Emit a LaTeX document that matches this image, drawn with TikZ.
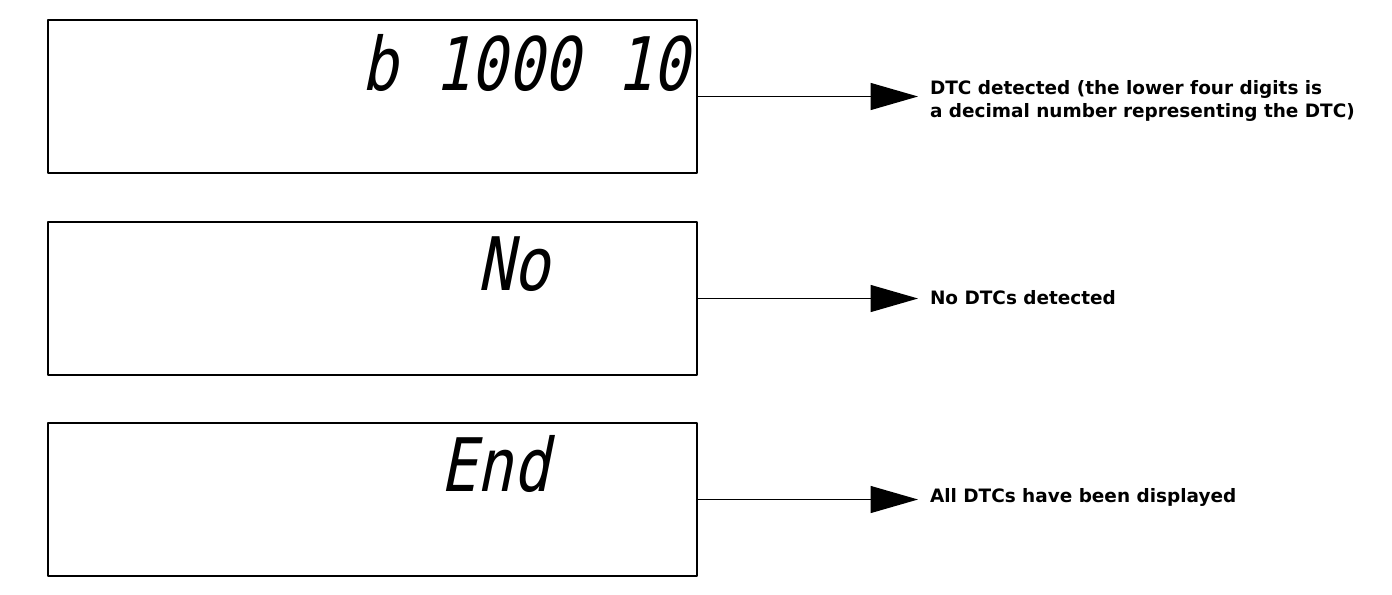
\documentclass[tikz,border=0pt]{standalone}
\usepackage{fontspec}
\usepackage{tikz}
\usetikzlibrary{arrows.meta}
\newfontfamily\lcdfont[FakeSlant=0.2,FakeStretch=0.82]{DejaVu Sans Mono}
\newfontfamily\msgfont{DejaVu Sans Bold}

\begin{document}
\begin{tikzpicture}[line cap=round,line join=round,>={Triangle[length=0.95cm,width=0.54cm]},x=1cm,y=1cm,
  display/.style={draw,line width=1.2pt,minimum width=12.98cm,minimum height=3.06cm},
  readout/.style={anchor=base west,inner sep=0pt,font=\lcdfont\fontsize{42}{42}\selectfont},
  msg/.style={anchor=west,inner sep=0pt,outer xsep=0.24cm,align=left,font=\msgfont\fontsize{10.5}{13.6}\selectfont}]
\useasboundingbox (0,0) rectangle (27.84,11.88);

\node [display] (disp1) at (7.45,9.95) {};
\node [display] (disp2) at (7.45,5.91) {};
\node [display] (disp3) at (7.45,1.89) {};

\node [readout] (code1) at (7.22,10.08) {b 1000 10};
\node [readout] (code2) at (9.54,6.08) {No};
\node [readout] (code3) at (8.80,2.06) {End};

\node [msg] (msg1) at (18.36,9.86) {DTC detected (the lower four digits is\\a decimal number representing the DTC)};
\node [msg] (msg2) at (18.36,5.92) {No DTCs detected};
\node [msg] (msg3) at (18.36,1.94) {All DTCs have been displayed};

\draw [->,line width=0.8pt] (disp1.east) -- (disp1.east -| msg1.west);
\draw [->,line width=0.8pt] (disp2.east) -- (disp2.east -| msg2.west);
\draw [->,line width=0.8pt] (disp3.east) -- (disp3.east -| msg3.west);
\end{tikzpicture}
\end{document}
